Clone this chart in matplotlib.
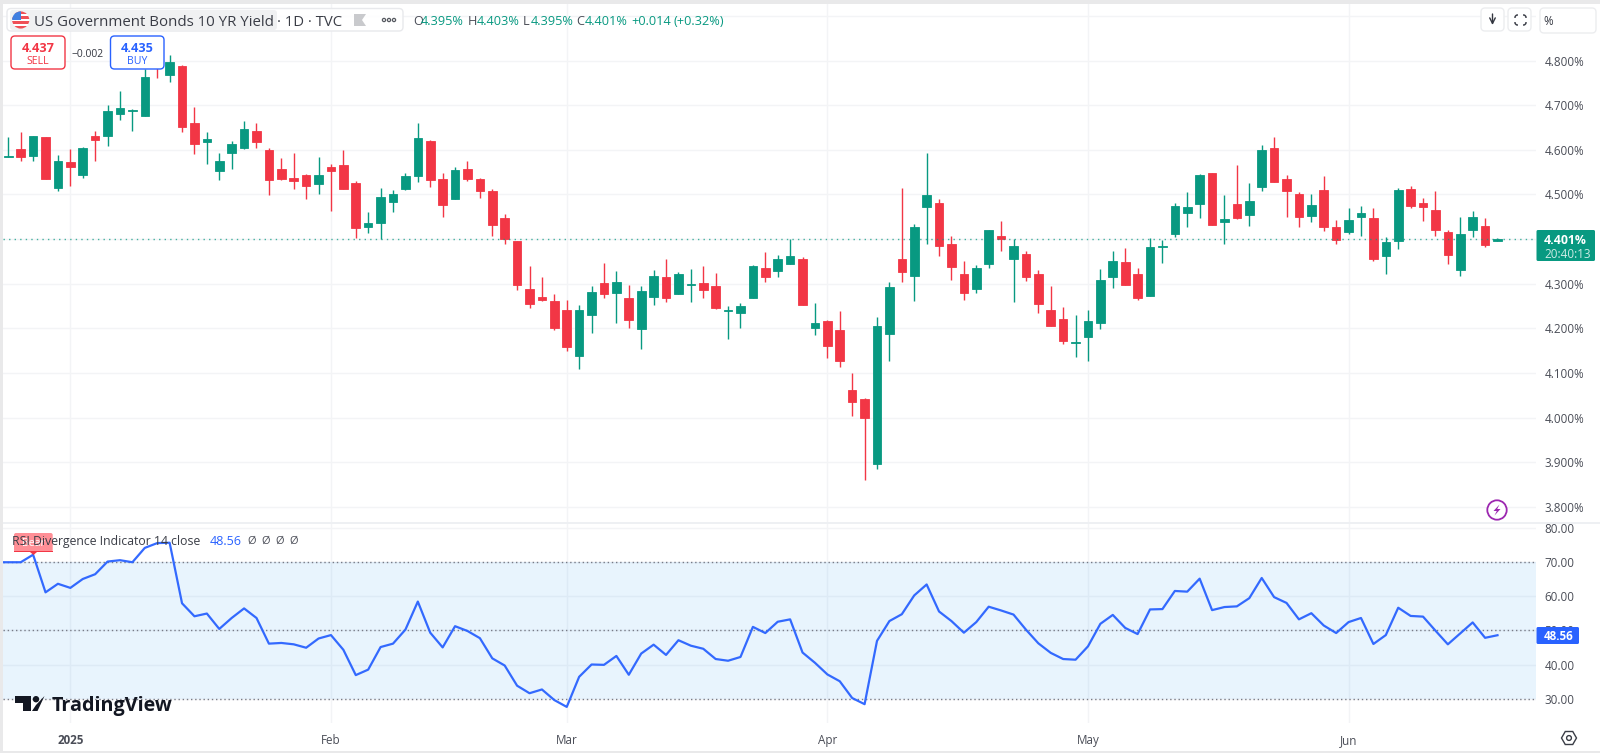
import numpy as np
import matplotlib
matplotlib.use("Agg")
import matplotlib.pyplot as plt
from matplotlib.patches import Rectangle, FancyBboxPatch, Circle, Polygon, RegularPolygon

plt.rcParams['font.family'] = ['Open Sans', 'DejaVu Sans']

# Daily candles
opens = [4.584, 4.601, 4.586, 4.628, 4.515, 4.572, 4.544, 4.630, 4.630, 4.681,
         4.686, 4.676, 4.795, 4.768, 4.787, 4.660, 4.617, 4.553, 4.593, 4.604,
         4.643, 4.599, 4.558, 4.536, 4.543, 4.524, 4.561, 4.565, 4.525, 4.426,
         4.435, 4.484, 4.512, 4.542, 4.619, 4.534, 4.490, 4.558, 4.534, 4.507,
         4.448, 4.395, 4.288, 4.270, 4.261, 4.242, 4.139, 4.229, 4.302, 4.280,
         4.268, 4.199, 4.271, 4.315, 4.278, 4.298, 4.302, 4.295, 4.240, 4.234,
         4.269, 4.335, 4.329, 4.344, 4.355, 4.202, 4.216, 4.196, 4.062, 4.041,
         3.897, 4.187, 4.355, 4.318, 4.473, 4.481, 4.388, 4.321, 4.289, 4.344,
         4.406, 4.355, 4.366, 4.321, 4.241, 4.220, 4.168, 4.180, 4.211, 4.314,
         4.348, 4.322, 4.273, 4.382, 4.411, 4.459, 4.479, 4.547, 4.438, 4.479,
         4.455, 4.517, 4.605, 4.534, 4.501, 4.452, 4.510, 4.428, 4.417, 4.449,
         4.448, 4.362, 4.396, 4.512, 4.481, 4.466, 4.415, 4.331, 4.420, 4.430, 4.395]
closes = [4.586, 4.584, 4.630, 4.535, 4.574, 4.562, 4.603, 4.623, 4.687, 4.693,
          4.690, 4.764, 4.785, 4.796, 4.652, 4.613, 4.625, 4.574, 4.614, 4.647,
          4.617, 4.533, 4.535, 4.531, 4.520, 4.543, 4.553, 4.512, 4.424, 4.437,
          4.494, 4.501, 4.541, 4.627, 4.533, 4.477, 4.554, 4.534, 4.508, 4.431,
          4.400, 4.298, 4.255, 4.264, 4.202, 4.158, 4.242, 4.282, 4.278, 4.305,
          4.218, 4.284, 4.317, 4.269, 4.322, 4.300, 4.285, 4.246, 4.242, 4.251,
          4.340, 4.316, 4.355, 4.362, 4.252, 4.211, 4.161, 4.128, 4.036, 3.999,
          4.205, 4.293, 4.327, 4.426, 4.499, 4.385, 4.338, 4.280, 4.335, 4.420,
          4.400, 4.385, 4.314, 4.254, 4.205, 4.172, 4.170, 4.217, 4.308, 4.350,
          4.298, 4.269, 4.382, 4.384, 4.474, 4.472, 4.543, 4.431, 4.446, 4.448,
          4.485, 4.599, 4.529, 4.508, 4.449, 4.476, 4.426, 4.398, 4.443, 4.459,
          4.355, 4.393, 4.510, 4.475, 4.473, 4.420, 4.364, 4.411, 4.450, 4.386, 4.401]
highs = [4.629, 4.640, 4.632, 4.629, 4.588, 4.601, 4.606, 4.643, 4.700, 4.731,
         4.692, 4.782, 4.810, 4.812, 4.789, 4.696, 4.639, 4.592, 4.619, 4.665,
         4.661, 4.603, 4.581, 4.592, 4.546, 4.583, 4.568, 4.599, 4.530, 4.461,
         4.514, 4.510, 4.547, 4.661, 4.621, 4.547, 4.561, 4.576, 4.536, 4.512,
         4.457, 4.395, 4.340, 4.315, 4.277, 4.263, 4.253, 4.295, 4.346, 4.329,
         4.297, 4.295, 4.331, 4.355, 4.326, 4.333, 4.340, 4.324, 4.251, 4.258,
         4.342, 4.371, 4.364, 4.401, 4.360, 4.258, 4.218, 4.238, 4.100, 4.044,
         4.226, 4.304, 4.514, 4.433, 4.592, 4.489, 4.408, 4.352, 4.343, 4.420,
         4.440, 4.401, 4.373, 4.331, 4.295, 4.249, 4.229, 4.242, 4.333, 4.373,
         4.380, 4.335, 4.402, 4.399, 4.480, 4.505, 4.546, 4.549, 4.499, 4.566,
         4.526, 4.610, 4.628, 4.543, 4.505, 4.501, 4.541, 4.443, 4.470, 4.475,
         4.470, 4.404, 4.514, 4.519, 4.492, 4.507, 4.421, 4.450, 4.464, 4.448, 4.403]
lows = [4.584, 4.575, 4.575, 4.535, 4.508, 4.520, 4.537, 4.576, 4.608, 4.667,
        4.643, 4.676, 4.760, 4.752, 4.639, 4.590, 4.568, 4.532, 4.557, 4.601,
        4.605, 4.499, 4.532, 4.512, 4.490, 4.501, 4.464, 4.512, 4.402, 4.413,
        4.400, 4.461, 4.510, 4.529, 4.517, 4.449, 4.490, 4.531, 4.493, 4.408,
        4.390, 4.286, 4.246, 4.262, 4.196, 4.150, 4.110, 4.189, 4.269, 4.211,
        4.202, 4.154, 4.253, 4.260, 4.278, 4.260, 4.269, 4.244, 4.176, 4.202,
        4.269, 4.303, 4.316, 4.344, 4.252, 4.185, 4.134, 4.114, 4.003, 3.861,
        3.885, 4.127, 4.303, 4.262, 4.388, 4.362, 4.308, 4.264, 4.279, 4.336,
        4.373, 4.260, 4.306, 4.235, 4.205, 4.164, 4.136, 4.126, 4.198, 4.291,
        4.298, 4.264, 4.273, 4.346, 4.404, 4.428, 4.448, 4.431, 4.390, 4.446,
        4.430, 4.508, 4.529, 4.450, 4.428, 4.439, 4.419, 4.388, 4.411, 4.408,
        4.351, 4.322, 4.377, 4.470, 4.441, 4.408, 4.344, 4.317, 4.404, 4.382, 4.395]

# RSI, one bar more on the left because the line runs in from the edge
rsi_values = [69.9,
              69.9, 69.9, 72.1, 61.1, 63.6, 62.4, 65.0, 66.4, 70.1, 70.5,
              69.9, 74.1, 75.5, 75.6, 57.9, 54.1, 54.9, 50.4, 53.6, 56.4,
              53.6, 46.1, 46.3, 45.9, 44.9, 47.6, 48.6, 44.3, 36.9, 38.5,
              45.1, 46.1, 50.2, 58.4, 49.3, 45.0, 51.2, 49.8, 47.7, 41.8,
              39.7, 33.8, 31.6, 32.7, 29.6, 27.6, 36.4, 40.0, 39.9, 42.5,
              37.0, 43.2, 45.8, 42.8, 47.1, 45.5, 44.6, 41.6, 41.1, 42.2,
              51.0, 49.2, 52.5, 53.2, 43.5, 40.5, 37.1, 35.1, 30.2, 28.4,
              46.9, 52.7, 54.7, 60.2, 63.4, 55.5, 52.7, 49.3, 52.4, 56.9,
              55.8, 54.6, 50.2, 46.2, 43.4, 41.6, 41.4, 45.3, 51.9, 54.5,
              50.7, 48.9, 56.1, 56.2, 61.5, 61.3, 65.1, 55.9, 56.8, 57.0,
              59.4, 65.3, 59.7, 58.0, 53.2, 55.0, 51.4, 49.2, 52.4, 53.6,
              46.0, 48.6, 56.6, 54.2, 54.0, 49.9, 45.9, 49.1, 52.3, 47.8, 48.56]

month_pos = [5, 26, 45, 66, 87, 108]
month_labels = ["2025", "Feb", "Mar", "Apr", "May", "Jun"]
price_ticks = [3.8, 3.9, 4.0, 4.1, 4.2, 4.3, 4.4, 4.5, 4.6, 4.7, 4.8, 4.9]
rsi_ticks = [30, 40, 50, 60, 70, 80]

GREEN = "#089981"
RED = "#F23645"
BLUE = "#2962FF"
GRID = "#F3F4F6"
TEXT = "#4A4D57"
W, H = 1600, 753
BAR_X0, BAR_STEP = 8.3, 12.41


def box(l, t, r, b):
    return [l / W, 1 - b / H, (r - l) / W, (b - t) / H]


def bar_at(px):
    return (px - BAR_X0) / BAR_STEP


fig = plt.figure(figsize=(16, 7.53), dpi=100, facecolor="white")
ax = fig.add_axes(box(3, 4, 1536, 522))
ax2 = fig.add_axes(box(3, 524, 1536, 723))

# price pane
x = np.arange(len(closes))
o, c, h, l = map(np.array, (opens, closes, highs, lows))
colors = [GREEN if b >= a else RED for a, b in zip(o, c)]
ax.vlines(x, l, h, colors=colors, linewidth=1.0, zorder=3)
ax.bar(x, np.abs(c - o), bottom=np.minimum(o, c), width=8.6 / BAR_STEP, color=colors,
       edgecolor=colors, linewidth=0.6, zorder=4)
ax.axhline(closes[-1], color=GREEN, linestyle=(0, (1, 3)), linewidth=1.0, alpha=0.75, zorder=5)
ax.set_xlim(bar_at(3), bar_at(1536))
ax.set_ylim(4.8 - (522 - 60.5) / 446.5, 4.8 + (60.5 - 4) / 446.5)
ax.set_yticks(price_ticks)
ax.set_yticklabels(["%.3f%%" % t if t < 4.85 else "" for t in price_ticks])

# RSI pane
rsi_x = np.arange(-1, len(closes))
ax2.axhspan(30, 70, color="#2196F3", alpha=0.1, linewidth=0, zorder=1)
for lvl in (30, 50, 70):
    ax2.axhline(lvl, color="#787B86", linestyle=(0, (1, 2)), linewidth=1.0, zorder=2)
ax2.plot(rsi_x, rsi_values, color=BLUE, linewidth=1.6, alpha=0.95, zorder=4)
ax2.set_xlim(bar_at(3), bar_at(1536))
ax2.set_ylim(70 - (723 - 561.9) / 3.42, 70 + (561.9 - 524) / 3.42)
ax2.set_yticks(rsi_ticks)
ax2.set_yticklabels(["%.2f" % t for t in rsi_ticks])
ax2.set_xticks(month_pos)
ax2.set_xticklabels(month_labels)
ax2.get_xticklabels()[0].set_fontweight("bold")

for a in (ax, ax2):
    a.set_xticks(month_pos)
    a.grid(True, color=GRID, linewidth=1.0, zorder=0)
    a.set_axisbelow(True)
    a.yaxis.tick_right()
    a.tick_params(axis="both", length=0, labelsize=8.4, labelcolor=TEXT)
    a.tick_params(axis="y", pad=6)
    a.tick_params(axis="x", pad=8)
    for s in a.spines.values():
        s.set_visible(False)
ax.tick_params(axis="x", labelbottom=False)

# everything else is chart furniture, placed in picture pixels
ui = fig.add_axes([0, 0, 1, 1], zorder=10)
ui.set_xlim(0, W)
ui.set_ylim(H, 0)
ui.axis("off")
ui.patch.set_alpha(0)


def rbox(l, t, r, b, fc="white", ec="none", lw=1.0, rad=3, z=6, alpha=None):
    p = FancyBboxPatch((l + rad, t + rad), r - l - 2 * rad, b - t - 2 * rad,
                       boxstyle="round,pad=%g,rounding_size=%g" % (rad, rad),
                       fc=fc, ec=ec, lw=lw, zorder=z, alpha=alpha)
    ui.add_patch(p)


def txt(px, py, s, size=8.4, color=TEXT, ha="left", weight="normal", z=8):
    ui.text(px, py, s, fontsize=size, color=color, ha=ha, va="center_baseline",
            fontweight=weight, zorder=z)


# window frame and pane separator
ui.add_patch(Rectangle((0, 0), W, 4, fc="#E9E9EA", ec="none"))
ui.add_patch(Rectangle((0, 0), 3, H, fc="#E9E9EA", ec="none"))
ui.add_patch(Rectangle((0, 751), W, 2, fc="#E9E9EA", ec="none"))
ui.add_patch(Rectangle((3, 521.5), W, 2, fc="#EEF0F3", ec="none"))

# header
rbox(7, 8.5, 403, 31, fc=(1, 1, 1, 0.9), ec="#E8E9EC", rad=4, z=5)
rbox(10, 10, 277, 30, fc="#F0F1F2", rad=3)
flag = Circle((20.7, 20), 8.6, fc="white", ec="none", zorder=7)
ui.add_patch(flag)
for top in (11.4, 16.4, 21.4, 26.0):
    s = Rectangle((12, top), 18, 2.6, fc="#EF4F55", ec="none", zorder=7)
    ui.add_patch(s)
    s.set_clip_path(flag)
canton = Rectangle((12, 11), 9, 9, fc="#3F7FE0", ec="none", zorder=7)
ui.add_patch(canton)
canton.set_clip_path(flag)
txt(34, 20, "US Government Bonds 10 YR Yield", size=10.85, color="#3A3D46")
txt(277, 20, "· 1D · TVC", size=10.7, color="#3A3D46")
ui.add_patch(Polygon([(354, 14), (366, 14), (362, 20), (366, 26), (354, 26)], fc="#C9CACD", ec="none", zorder=7))
for dx in (384, 389, 394):
    ui.add_patch(Circle((dx, 20), 1.6, fc="none", ec="#55585F", lw=0.9, zorder=7))

ohlc = [(413, "O", TEXT), (421, "4.395%", GREEN), (468, "H", TEXT), (477, "4.403%", GREEN),
        (523, "L", TEXT), (531, "4.395%", GREEN), (576, "C", TEXT), (585, "4.401%", GREEN),
        (631, "+0.014", GREEN), (673, "(+0.32%)", GREEN)]
for px, s, col in ohlc:
    txt(px, 20, s, size=9.2, color=col, z=9)

# sell / buy boxes
rbox(11, 36, 65, 69, fc="white", ec=RED, lw=1.0, rad=4)
txt(38, 46.5, "4.437", size=9.2, color=RED, ha="center", weight="bold")
txt(38, 60, "SELL", size=7.6, color=RED, ha="center")
txt(88, 53, "−0.002", size=7.4, color="#333640", ha="center")
rbox(110.5, 36, 164, 69, fc="white", ec=BLUE, lw=1.0, rad=4)
txt(137, 46.5, "4.435", size=9.2, color=BLUE, ha="center", weight="bold")
txt(137, 60, "BUY", size=7.6, color=BLUE, ha="center")

# top right buttons
rbox(1481, 8, 1504, 31, fc="white", ec="#ECEDEF", rad=4)
ui.annotate("", xy=(1492.5, 25), xytext=(1492.5, 14),
            arrowprops=dict(arrowstyle="->", color="#333640", lw=1.0, shrinkA=0, shrinkB=0), zorder=8)
rbox(1508, 8, 1531, 31, fc="white", ec="#ECEDEF", rad=4)
rbox(1515, 15, 1526, 25, fc="none", ec="#333640", lw=1.0, rad=2.5, z=7)
ui.add_patch(Rectangle((1513, 18), 15, 4, fc="white", ec="none", zorder=7.5))
ui.add_patch(Rectangle((1518, 13), 5, 14, fc="white", ec="none", zorder=7.5))
rbox(1540, 8, 1596, 33, fc="white", ec="#ECEDEF", rad=4)
txt(1543, 20, "%", size=8.4, color="#333640")

# last price labels
rbox(1536.5, 230, 1595, 261, fc=GREEN, rad=1.5)
txt(1544, 239, "4.401%", size=8.8, color="white", weight="bold")
txt(1544, 253, "20:40:13", size=8.4, color="#CDEBE5")
rbox(1536.5, 627, 1579, 644, fc=BLUE, rad=1.5)
txt(1544, 635.5, "48.56", size=8.4, color="white", weight="bold")

# RSI legend with the Bear tag under it
rbox(14, 533, 52.7, 552, fc="#FF8F96", rad=2)
ui.add_patch(Polygon([(30, 552), (37, 552), (33.5, 555)], fc=RED, ec="none", zorder=6))
ui.add_patch(Rectangle((14, 551), 38.7, 1.2, fc=RED, ec="none", zorder=6))
txt(33, 542, "Bear", size=7.6, color="white", ha="center", z=6.5)
txt(12.5, 540, "RSI Divergence Indicator 14 close", size=8.85, color="#3A3D46")
txt(210, 540, "48.56", size=9.0, color=BLUE)
for px in (247, 261, 275, 289):
    txt(px, 540, "Ø", size=8.0, color="#4A4D57")

# TradingView mark
ui.add_patch(Polygon([(15, 696), (31, 696), (31, 711), (23, 711), (23, 702.5), (15, 702.5)], fc="#131722", ec="none", zorder=8))
ui.add_patch(Circle((36, 699.2), 3.2, fc="#131722", ec="none", zorder=8))
ui.add_patch(Polygon([(37.5, 711), (44.5, 696), (36, 705), (32, 711)], fc="#131722", ec="none", zorder=8))
txt(52, 703.5, "TradingView", size=14.2, color="#131722", weight="bold")

# lightning badge and gear
ui.add_patch(Circle((1497, 510), 9.7, fc="white", ec="#9C27B0", lw=1.3, zorder=7))
ui.add_patch(Polygon([(1499.5, 504.5), (1493.5, 511), (1496.8, 511), (1494.5, 515.5), (1500.5, 509), (1497.2, 509)],
                     fc="#9C27B0", ec="none", zorder=8))
ui.add_patch(RegularPolygon((1569, 738), 6, radius=7.5, orientation=np.pi / 2, fc="none", ec="#3A3D46", lw=1.0, zorder=7))
ui.add_patch(Circle((1569, 738), 2.4, fc="none", ec="#3A3D46", lw=1.0, zorder=7))

fig.savefig("out.png", dpi=100)
